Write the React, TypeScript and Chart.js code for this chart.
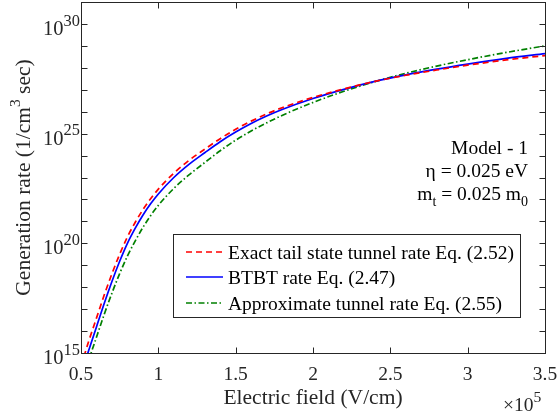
import React, { useEffect, useRef } from "react";
import { Chart, registerables } from "chart.js";

Chart.register(...registerables);

// Electric field in units of 1e5 V/cm
const fieldE5 = [0.5, 0.55, 0.6, 0.65, 0.7, 0.75, 0.8, 0.85, 0.9, 0.95, 1.0, 1.1, 1.2, 1.3, 1.4, 1.5, 1.6, 1.7, 1.8, 2.0, 2.2, 2.4, 2.6, 2.8, 3.0, 3.25, 3.5];
// log10 of generation rate (1/cm^3 sec)
const exactLog10 = [14.39, 15.54, 16.59, 17.64, 18.61, 19.5, 20.29, 20.95, 21.53, 22.03, 22.47, 23.2, 23.79, 24.29, 24.77, 25.2, 25.57, 25.9, 26.18, 26.65, 27.04, 27.38, 27.66, 27.9, 28.12, 28.36, 28.56];
const btbtLog10 = [13.97, 15.12, 16.19, 17.26, 18.26, 19.18, 20.0, 20.68, 21.28, 21.8, 22.25, 23.0, 23.61, 24.13, 24.63, 25.07, 25.46, 25.8, 26.1, 26.6, 27.02, 27.38, 27.68, 27.94, 28.17, 28.43, 28.65];
const approxLog10 = [13.52, 14.67, 15.72, 16.76, 17.73, 18.62, 19.42, 20.1, 20.72, 21.26, 21.73, 22.5, 23.13, 23.68, 24.22, 24.7, 25.12, 25.49, 25.83, 26.42, 26.93, 27.37, 27.75, 28.08, 28.37, 28.7, 29.0];

const seriesNames = [
  "Exact tail state tunnel rate Eq. (2.52)",
  "BTBT rate Eq. (2.47)",
  "Approximate tunnel rate Eq. (2.55)",
];
const seriesColors = ["#ff0000", "#0000ff", "#008000"];
const seriesDashes: number[][] = [[6, 4], [], [6, 2.5, 1.5, 2.5]];

const xTicks = [0.5, 1, 1.5, 2, 2.5, 3, 3.5];
const xTickLabels = ["0.5", "1", "1.5", "2", "2.5", "3", "3.5"];
const yLabelExps = [15, 20, 25, 30];
const yTickExps = [15, 16, 17, 18, 19, 20, 21, 22, 23, 24, 25, 26, 27, 28, 29, 30];

const FONT = "'Liberation Serif', 'Times New Roman', serif";
const AXIS = "#262626";

type Part = { t: string; sup?: boolean; sub?: boolean };

function drawRich(ctx: CanvasRenderingContext2D, parts: Part[], x: number, y: number, size: number, align: "left" | "right" | "center", ratio = 0.72) {
  const small = size * ratio;
  const widths = parts.map((p) => {
    ctx.font = `${p.sup || p.sub ? small : size}px ${FONT}`;
    return ctx.measureText(p.t).width;
  });
  const total = widths.reduce((a, b) => a + b, 0);
  let cx = align === "left" ? x : align === "right" ? x - total : x - total / 2;
  ctx.textAlign = "left";
  ctx.textBaseline = "alphabetic";
  parts.forEach((p, i) => {
    ctx.font = `${p.sup || p.sub ? small : size}px ${FONT}`;
    const dy = p.sup ? -size * 0.45 : p.sub ? size * 0.32 : 0;
    ctx.fillText(p.t, cx, y + dy);
    cx += widths[i];
  });
}

const decorPlugin = {
  id: "decor",
  afterDraw(chart: any) {
    const { ctx, chartArea: a, scales } = chart;
    const xs = scales.x;
    const ys = scales.y;
    ctx.save();
    const L = Math.round(a.left) + 0.5;
    const R = Math.round(a.right) + 0.5;
    const T = Math.round(a.top) + 0.5;
    const B = Math.round(a.bottom) + 0.5;
    ctx.strokeStyle = AXIS;
    ctx.lineWidth = 1;
    ctx.setLineDash([]);
    ctx.strokeRect(L, T, R - L, B - T);
    const tl = 6;
    ctx.beginPath();
    xTicks.forEach((v) => {
      const px = Math.round(xs.getPixelForValue(v)) + 0.5;
      ctx.moveTo(px, B);
      ctx.lineTo(px, B - tl);
      ctx.moveTo(px, T);
      ctx.lineTo(px, T + tl);
    });
    yTickExps.forEach((e) => {
      const py = Math.round(ys.getPixelForValue(Math.pow(10, e))) + 0.5;
      ctx.moveTo(L, py);
      ctx.lineTo(L + tl, py);
      ctx.moveTo(R, py);
      ctx.lineTo(R - tl, py);
    });
    ctx.stroke();

    ctx.fillStyle = AXIS;
    const tickSize = 19.5;
    ctx.font = `${tickSize}px ${FONT}`;
    ctx.textAlign = "center";
    ctx.textBaseline = "alphabetic";
    xTicks.forEach((v, i) => {
      const px = xs.getPixelForValue(v);
      ctx.fillText(xTickLabels[i], px, a.bottom + 27);
    });
    yLabelExps.forEach((e) => {
      const py = ys.getPixelForValue(Math.pow(10, e));
      drawRich(ctx, [{ t: "10" }, { t: String(e), sup: true }], a.left - 1, py + 11, 20.5, "right", 0.8);
    });
    drawRich(ctx, [{ t: "\u00d710" }, { t: "5", sup: true }], a.right - 42, a.bottom + 58, tickSize, "left", 0.8);

    // axis labels
    const labSize = 21.5;
    drawRich(ctx, [{ t: "Electric field (V/cm)" }], (a.left + a.right) / 2, a.bottom + 51, labSize, "center");
    ctx.save();
    ctx.translate(30, (a.top + a.bottom) / 2);
    ctx.rotate(-Math.PI / 2);
    drawRich(ctx, [{ t: "Generation rate (1/cm" }, { t: "3", sup: true }, { t: " sec)" }], 0, 0, labSize, "center");
    ctx.restore();

    // annotation
    ctx.fillStyle = "#000000";
    drawRich(ctx, [{ t: "Model - 1" }], 528, 154, tickSize, "right");
    drawRich(ctx, [{ t: "\u03b7 = 0.025 eV" }], 528, 177, tickSize, "right");
    drawRich(ctx, [{ t: "m" }, { t: "t", sub: true }, { t: " = 0.025 m" }, { t: "0", sub: true }], 528, 200, tickSize, "right");

    // legend
    ctx.fillStyle = "#ffffff";
    ctx.fillRect(173.5, 234.5, 347, 83);
    ctx.strokeStyle = AXIS;
    ctx.lineWidth = 1;
    ctx.strokeRect(173.5, 234.5, 347, 83);
    const rows = [252, 277, 303];
    seriesNames.forEach((name, i) => {
      ctx.strokeStyle = seriesColors[i];
      ctx.lineWidth = 1.7;
      ctx.setLineDash(seriesDashes[i]);
      ctx.beginPath();
      ctx.moveTo(186, rows[i]);
      ctx.lineTo(223, rows[i]);
      ctx.stroke();
      ctx.setLineDash([]);
      ctx.fillStyle = "#000000";
      drawRich(ctx, [{ t: name }], 228, rows[i] + 6.5, tickSize, "left");
    });
    ctx.restore();
  },
};

export default function App() {
  const ref = useRef<HTMLCanvasElement | null>(null);
  useEffect(() => {
    const canvas = ref.current;
    if (!canvas) return;
    const logs = [exactLog10, btbtLog10, approxLog10];
    const chart = new Chart(canvas, {
      type: "line",
      data: {
        datasets: seriesNames.map((name, i) => ({
          label: name,
          data: fieldE5.map((e, k) => ({ x: e, y: Math.pow(10, logs[i][k]) })),
          borderColor: seriesColors[i],
          borderDash: seriesDashes[i],
          borderWidth: 1.7,
          pointRadius: 0,
          fill: false,
          cubicInterpolationMode: "monotone" as const,
        })),
      },
      options: {
        responsive: false,
        animation: false,
        devicePixelRatio: 1,
        layout: { padding: { left: 81, right: 13, top: 2, bottom: 63 } },
        plugins: { legend: { display: false }, tooltip: { enabled: false } },
        scales: {
          x: { type: "linear", min: 0.5, max: 3.5, display: false },
          y: { type: "logarithmic", min: 1e15, max: 1e31, display: false },
        },
      },
      plugins: [decorPlugin],
    });
    return () => chart.destroy();
  }, []);
  return (
    <div style={{ position: "fixed", left: 0, top: 0, width: 558, height: 416, background: "#ffffff" }}>
      <canvas ref={ref} width={558} height={416} style={{ display: "block" }} />
    </div>
  );
}
